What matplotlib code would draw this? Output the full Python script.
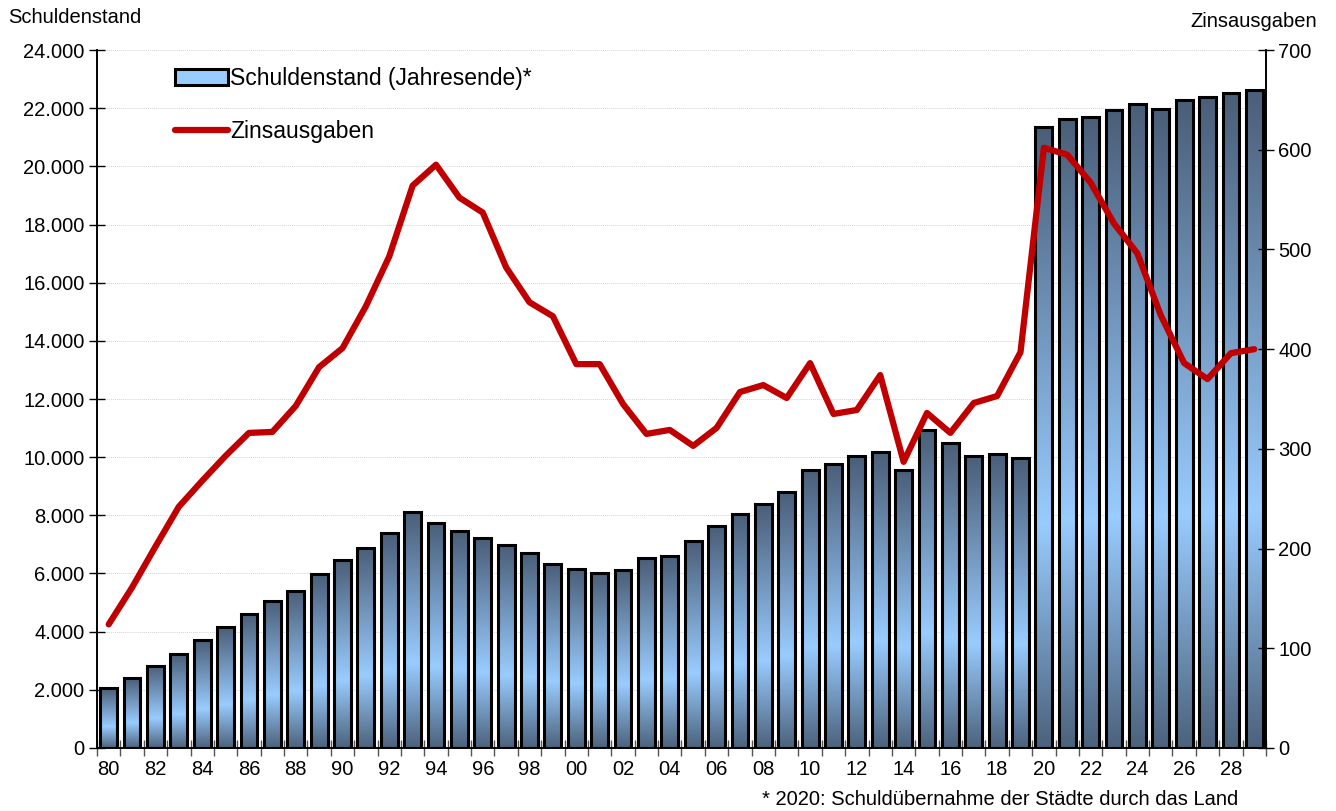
import matplotlib
matplotlib.use("Agg")
import matplotlib.pyplot as plt
import numpy as np
from matplotlib.colors import LinearSegmentedColormap
from matplotlib.patches import Patch
from matplotlib.lines import Line2D
from matplotlib.ticker import FuncFormatter, FixedLocator

plt.rcParams['font.family'] = ['Liberation Sans', 'DejaVu Sans']

# data
years = list(range(1980, 2030))
schuldenstand = [2060, 2400, 2820, 3230, 3710, 4160, 4610, 5060, 5400, 5980,
                 6470, 6880, 7390, 8120, 7740, 7460, 7220, 6980, 6710, 6330,
                 6160, 6020, 6120, 6530, 6600, 7120, 7630, 8050, 8390, 8800,
                 9560, 9770, 10040, 10180, 9560, 10940, 10490, 10040, 10110, 9970,
                 21350, 21630, 21700, 21940, 22150, 21970, 22280, 22390, 22520, 22630]
zinsausgaben = [124, 161, 202, 242, 268, 293, 316, 317, 343, 382,
                401, 443, 493, 564, 585, 552, 537, 482, 447, 433,
                385, 385, 345, 315, 319, 303, 321, 357, 364, 351,
                386, 335, 339, 374, 287, 336, 316, 346, 353, 397,
                602, 595, 567, 526, 496, 434, 386, 370, 396, 400]
tick_labels = [f"{y % 100:02d}" for y in years]

fig = plt.figure(figsize=(13.36, 8.11), dpi=100)
ax = fig.add_axes([0.0726, 0.0777, 0.8750, 0.8606])
ax2 = ax.twinx()

x = np.arange(len(years))
cmap = LinearSegmentedColormap.from_list(
    "barfill", [(0.0, "#4c627c"), (0.36, "#99ccff"), (1.0, "#4a5e78")])
grad = np.linspace(0, 1, 256).reshape(-1, 1)

bars = ax.bar(x, schuldenstand, width=0.72, facecolor="none",
              edgecolor="black", linewidth=2.2, zorder=3)
for b in bars:
    x0, w, h = b.get_x(), b.get_width(), b.get_height()
    im = ax.imshow(grad, cmap=cmap, origin="lower", aspect="auto",
                   extent=[x0, x0 + w, 0, h], zorder=2)
    im.set_clip_path(b)

ax.set_xlim(-0.5, len(years) - 0.5)
ax.set_ylim(0, 24000)
ax.set_yticks(np.arange(0, 24001, 2000))
ax.yaxis.set_major_formatter(FuncFormatter(lambda v, p: f"{int(v):,}".replace(",", ".")))
ax.grid(axis="y", color="#d4d4d4", linestyle=(0, (1, 1)), linewidth=0.7, zorder=0)
ax.set_axisbelow(True)

ax.xaxis.set_major_locator(FixedLocator(np.arange(-0.5, len(years), 1.0)))
ax.xaxis.set_minor_locator(FixedLocator(x[::2]))
ax.set_xticklabels([])
ax.set_xticklabels(tick_labels[::2], minor=True)
ax.tick_params(axis="x", which="major", direction="inout", length=11, width=1, color="#555555")
ax.tick_params(axis="x", which="minor", length=0, pad=9, labelsize=14.5)
ax.tick_params(axis="y", direction="inout", length=12, width=1, labelsize=14.5, pad=3)

ax2.plot(x, zinsausgaben, color="#c00000", linewidth=4.5, solid_joinstyle="round",
         solid_capstyle="round", zorder=5)
ax2.set_ylim(0, 700)
ax2.set_yticks(np.arange(0, 701, 100))
ax2.tick_params(axis="y", direction="inout", length=12, width=1, labelsize=14.5, pad=3)

for a in (ax, ax2):
    a.spines["top"].set_visible(False)
    for s in ("left", "right", "bottom"):
        a.spines[s].set_linewidth(1.2)

fig.text(0.006, 0.978, "Schuldenstand", fontsize=14.5, ha="left", va="center")
fig.text(0.986, 0.973, "Zinsausgaben", fontsize=14.5, ha="right", va="center")
fig.text(0.927, 0.014, "* 2020: Schuldübernahme der Städte durch das Land",
         fontsize=14.5, ha="right", va="center")

handles = [Patch(facecolor="#99ccff", edgecolor="black", linewidth=2.2),
           Line2D([0], [0], color="#c00000", linewidth=4.5, solid_capstyle="round")]
ax.legend(handles, ["Schuldenstand (Jahresende)*", "Zinsausgaben"],
          loc="upper left", bbox_to_anchor=(0.067, 0.976), frameon=False,
          borderpad=0, borderaxespad=0,
          fontsize=16.5, handlelength=2.3, handleheight=0.7, handletextpad=0.1,
          labelspacing=1.3)

fig.savefig("out.png", dpi=100)
